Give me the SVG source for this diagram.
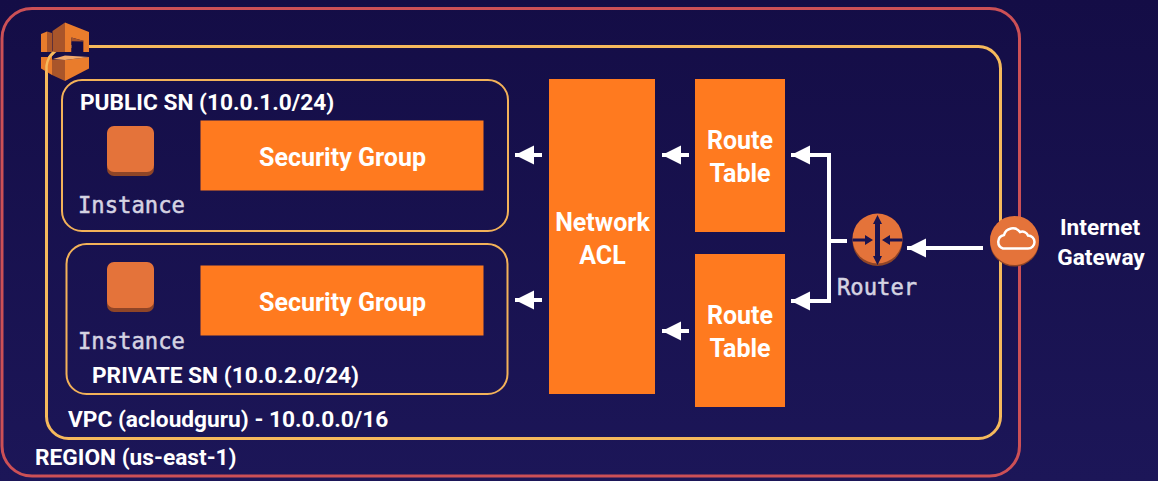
<svg xmlns="http://www.w3.org/2000/svg" width="1158" height="481" viewBox="0 0 1158 481">
<defs>
<linearGradient id="bg" x1="0" y1="0" x2="0" y2="1"><stop offset="0" stop-color="#140d46"/><stop offset="1" stop-color="#1c1658"/></linearGradient>
<marker id="ah" markerUnits="userSpaceOnUse" markerWidth="20" markerHeight="20" refX="19" refY="10" orient="auto"><path d="M0 0.500V19.500L19 10Z" fill="#fff"/></marker>
</defs>
<style>
.region{fill:none;stroke:#cc5056;stroke-width:3}
.box{fill:none;stroke:#f3b259;stroke-width:2}
.vpc{fill:none;stroke:#f5b95c;stroke-width:3}
.or{fill:#ff7a1f}
.t{font-family:Roboto,"Liberation Sans",sans-serif;font-weight:700;fill:#fff}
.lbl{font-size:22.700px}
.big{font-size:25px;text-anchor:middle}
.m{font-family:"DejaVu Sans Mono","Liberation Mono",monospace;font-size:22.200px;fill:#d5d3e2;stroke:#d5d3e2;stroke-width:0.500}
.c{fill:none;stroke:#fff;stroke-width:4}
.f{fill:#e4733a}
.d{fill:#8f4527}
.hi{fill:#e97c2c}
.lo{fill:#a9552a}
</style>
<rect width="1158" height="481" fill="url(#bg)"/>
<g id="region"><rect class="region" x="2" y="8.500" width="1017.500" height="467.500" rx="30"/><text class="t lbl" x="35" y="465">REGION (us-east-1)</text></g>
<g id="vpc"><rect class="vpc" x="46.500" y="46.500" width="954" height="392" rx="22"/><text class="t lbl" x="68" y="427">VPC (acloudguru) - 10.0.0.0/16</text></g>
<g id="vpc-icon">
<path class="hi" d="M41 34L47 31.500V52H41Z"/>
<path class="lo" d="M47 31.500L52 33V52H47Z"/>
<path class="lo" d="M52.500 31L65 22.500V52H52.500Z"/>
<path class="hi" d="M65 22.500L89 32V52H84V41L71.500 37.500V52H65Z"/>
<path class="lo" d="M71.500 37.500L84 41V52L83 52V42L71.500 41.500Z"/>
<path fill="#140d46" d="M71.500 41.500H83V52H71.500Z"/>
<path class="hi" d="M41 57H52V75L41 68.500Z"/>
<path class="lo" d="M52 59.500L65 60V81L52 75Z"/>
<path class="hi" d="M65 60L89 57V68.500L65 81Z"/>
<path fill="#f0a76a" d="M53 59L65 55.500L89 57L65 60Z"/>
<path d="M54 52.500Q48 56 46.500 66V72" fill="none" stroke="#f5b95c" stroke-width="2.500"/>
</g>
<g id="public-sn"><rect class="box" x="62" y="80" width="446" height="151" rx="20"/><text class="t lbl" x="80" y="110">PUBLIC SN (10.0.1.0/24)</text></g>
<g id="private-sn"><rect class="box" x="66.500" y="244" width="441" height="150" rx="20"/><text class="t lbl" x="92" y="383">PRIVATE SN (10.0.2.0/24)</text></g>
<g id="instance-1"><rect class="d" x="107" y="127" width="47" height="49" rx="7"/><rect class="f" x="107" y="126" width="47" height="46" rx="7"/><text class="m" x="78" y="213">Instance</text></g>
<g id="instance-2"><rect class="d" x="107" y="263" width="47" height="49" rx="7"/><rect class="f" x="107" y="262" width="47" height="46" rx="7"/><text class="m" x="78" y="349">Instance</text></g>
<g id="sg-1"><rect class="or" x="200.500" y="120.500" width="283" height="70"/><text class="t big" x="342.500" y="166">Security Group</text></g>
<g id="sg-2"><rect class="or" x="200.500" y="265.500" width="283" height="70"/><text class="t big" x="342.500" y="311">Security Group</text></g>
<g id="nacl"><rect class="or" x="549" y="79" width="106" height="315"/><text class="t big" x="602.500" y="231">Network</text><text class="t big" x="602.500" y="264">ACL</text></g>
<g id="rt-1"><rect class="or" x="695" y="79" width="90" height="153"/><text class="t big" x="740" y="149">Route</text><text class="t big" x="740" y="182">Table</text></g>
<g id="rt-2"><rect class="or" x="695" y="254" width="90" height="153"/><text class="t big" x="740" y="324">Route</text><text class="t big" x="740" y="357">Table</text></g>
<g id="connectors">
<path class="c" marker-end="url(#ah)" d="M542 155H515"/>
<path class="c" marker-end="url(#ah)" d="M689 155H662"/>
<path class="c" marker-end="url(#ah)" d="M542 300H515"/>
<path class="c" marker-end="url(#ah)" d="M689 331H662"/>
<path class="c" marker-end="url(#ah)" d="M829 241V155H791"/>
<path class="c" marker-end="url(#ah)" d="M829 241V301H791"/>
<path class="c" d="M829 241H847"/>
<path class="c" marker-end="url(#ah)" d="M983 248H907"/>
</g>
<g id="router">
<circle class="d" cx="877.500" cy="241" r="25"/><circle class="f" cx="877.500" cy="238.500" r="25"/>
<path d="M877.500 222V258" stroke="#1a1450" stroke-width="5" fill="none"/>
<path d="M852.500 240H868M902.500 240H887" stroke="#1a1450" stroke-width="3" fill="none"/>
<path d="M877.500 215l-4.500 9h9zM877.500 265l-4.500-9h9zM873 240l-8-5v10zM882 240l8-5v10z" fill="#1a1450"/>
<text class="m" x="837" y="295">Router</text>
</g>
<g id="igw">
<circle class="d" cx="1014.500" cy="242" r="24.500"/><circle class="f" cx="1014.500" cy="240.500" r="24.500"/>
<path d="M1003 248.500H1028a6.500 6.500 0 0 0 0-13a6 6 0 0 0-8-3.500a9 9 0 0 0-16 3a7 7 0 0 0-1 13.500Z" fill="none" stroke="#fff" stroke-width="2.500"/>
</g>
<g id="igw-label"><text class="t lbl" x="1100" y="235" text-anchor="middle">Internet</text><text class="t lbl" x="1101" y="265" text-anchor="middle">Gateway</text></g>
</svg>
